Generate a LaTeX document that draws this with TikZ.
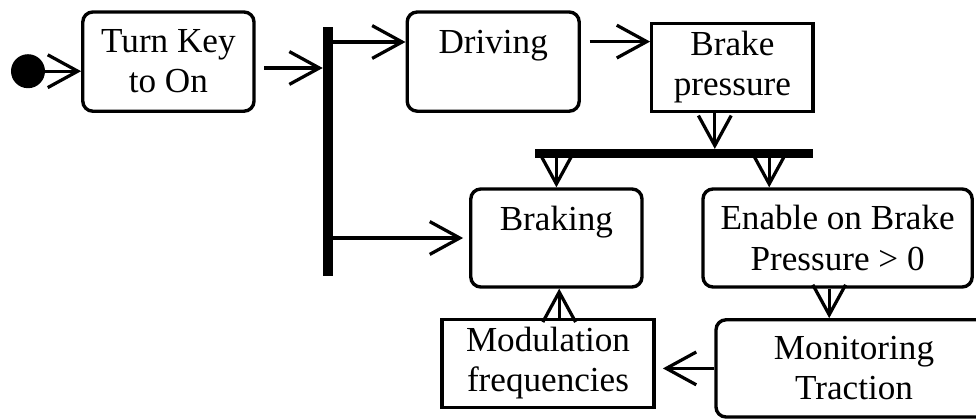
\documentclass[tikz,border=0pt]{standalone}
\usepackage{fontspec}
\setmainfont{Liberation Serif}
\usetikzlibrary{arrows.meta}

\begin{document}
\begin{tikzpicture}[
  state/.style={draw,line width=2.4pt,rounded corners=0.25cm,align=center,font=\fontsize{25}{28.5}\selectfont},
  box/.style={draw,line width=2.4pt,align=center,font=\fontsize{25}{28.5}\selectfont},
  bar/.style={fill=black,inner sep=0pt},
  flow/.style={-{Straight Barb[length=0.75cm,width=0.82cm]},line width=2.3pt}]
\useasboundingbox (0,0) rectangle (24.4,-10.45);
\node[circle,fill=black,minimum size=0.85cm,inner sep=0pt] (S) at (0.7,-1.78) {};
\node[state,minimum width=4.28cm,minimum height=2.48cm] (K) at (4.21,-1.54) {Turn Key\\to On};
\node[bar,minimum width=0.25cm,minimum height=6.22cm] (F1) at (8.2,-3.79) {};
\node[state,minimum width=4.3cm,minimum height=2.48cm] (D) at (12.33,-1.54) {Driving\\\mbox{}};
\node[box,minimum width=4.03cm,minimum height=2.2cm] (P) at (18.31,-1.68) {Brake\\pressure};
\node[bar,minimum width=6.95cm,minimum height=0.22cm] (F2) at (16.85,-3.84) {};
\node[state,minimum width=4.28cm,minimum height=2.45cm] (B) at (13.91,-5.95) {Braking\\\mbox{}};
\node[state,minimum width=6.73cm,minimum height=2.45cm] (E) at (20.94,-5.95) {Enable on Brake\\Pressure > 0};
\node[state,minimum width=6.9cm,minimum height=2.43cm] (M) at (21.35,-9.21) {Monitoring\\Traction};
\node[box,minimum width=5.3cm,minimum height=2.2cm] (Q) at (13.7,-9.08) {Modulation\\frequencies};
\draw[flow] (S.east) -- (S.east -| K.west);
\draw[flow,shorten <=0.22cm] ([yshift=-0.16cm]K.east) -- ([yshift=-0.16cm]K.east -| F1.west);
\draw[flow] ([yshift=0.49cm]D.west -| F1.east) -- ([yshift=0.49cm]D.west);
\draw[flow,shorten >=0.15cm] (F1.east |- B.west) -- (B.west);
\draw[flow,shorten <=0.22cm] ([yshift=0.5cm]D.east) -- ([yshift=0.5cm]D.east -| P.west);
\draw[flow] ([xshift=-0.44cm]P.south) -- ([xshift=-0.44cm]P.south |- F2.north);
\draw[flow] (B.north |- F2.south) -- (B.north);
\draw[flow] ([xshift=-1.71cm]E.north |- F2.south) -- ([xshift=-1.71cm]E.north);
\draw[flow] ([xshift=-0.21cm]E.south) -- ([xshift=-0.21cm]E.south |- M.north);
\draw[flow,shorten >=0.18cm] (M.west) -- (M.west -| Q.east);
\draw[flow] ([xshift=0.28cm]Q.north) -- ([xshift=0.28cm]Q.north |- B.south);
\end{tikzpicture}
\end{document}
